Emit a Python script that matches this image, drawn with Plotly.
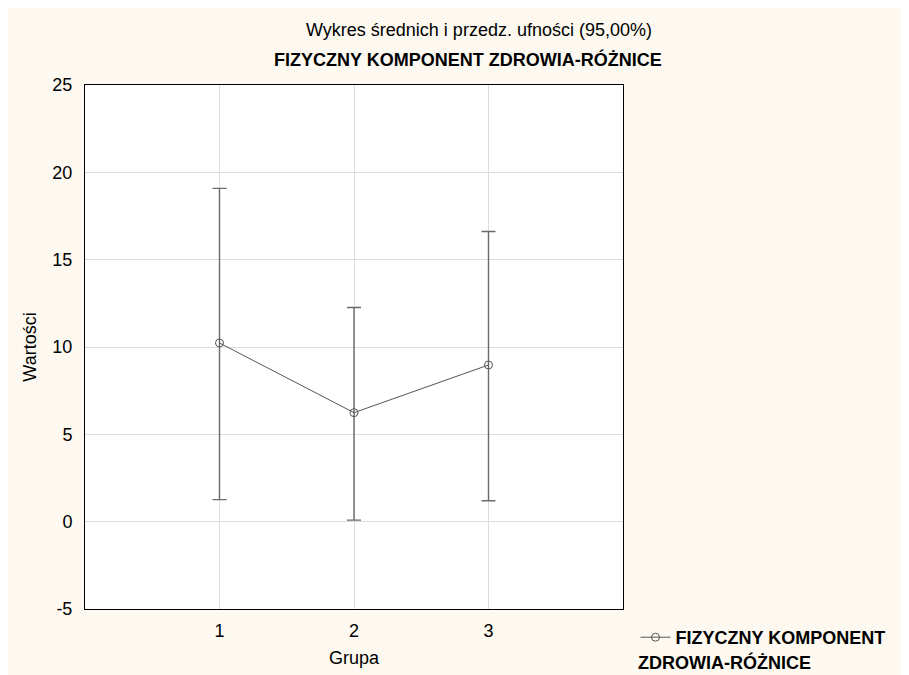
import plotly.graph_objects as go

groups = [1, 2, 3]
means = [10.23, 6.24, 8.97]
upper = [19.08, 12.26, 16.61]
lower = [1.26, 0.09, 1.20]
y_ticks = [-5, 0, 5, 10, 15, 20, 25]
y_tick_labels = ["-5", "0", "5", "10", "15", "20", "25"]
x_ticks = [1, 2, 3]

err_plus = [u - m for u, m in zip(upper, means)]
err_minus = [m - l for m, l in zip(means, lower)]

FONT = "Liberation Sans, Arial, sans-serif"
BG = "#FDF9F0"

# plot area in figure pixels
L, T, W, H = 77, 77, 538, 524

def px(xfig):
    return (xfig - L) / W

def py(yfig):
    return 1 - (yfig - T) / H

fig = go.Figure()
fig.add_trace(go.Scatter(
    x=groups, y=means, mode="lines+markers",
    name="<b>FIZYCZNY KOMPONENT</b>",
    line=dict(color="#555555", width=1),
    marker=dict(symbol="circle-open", size=8, color="#555555", line=dict(width=1)),
    error_y=dict(type="data", symmetric=False, array=err_plus, arrayminus=err_minus,
                 color="#6A6A6A", thickness=1.4, width=7),
))

fig.update_layout(
    width=909, height=675,
    paper_bgcolor=BG, plot_bgcolor="white",
    margin=dict(l=L, r=909 - L - W, t=T, b=675 - T - H),
    font=dict(family=FONT, size=18, color="black"),
    showlegend=True,
    legend=dict(x=px(627.5), y=py(611), xanchor="left", yanchor="top",
                bgcolor="rgba(0,0,0,0)", font=dict(size=18, family=FONT),
                itemwidth=30, tracegroupgap=0),
    xaxis=dict(range=[0, 4], tickvals=x_ticks, ticktext=[str(v) for v in x_ticks],
               showgrid=True, gridcolor="#DDDDDD", gridwidth=1,
               showline=True, linecolor="black", linewidth=1, mirror=True,
               ticks="", zeroline=False, ticklabelstandoff=5,
               title=dict(text="Grupa", font=dict(size=18), standoff=11),
               tickfont=dict(size=18)),
    yaxis=dict(range=[-5, 25], tickvals=y_ticks, ticktext=y_tick_labels,
               showgrid=True, gridcolor="#DDDDDD", gridwidth=1,
               showline=True, linecolor="black", linewidth=1, mirror=True,
               ticks="", zeroline=False, ticklabelstandoff=8,
               title=dict(text="Wartości", font=dict(size=18), standoff=11),
               tickfont=dict(size=18)),
    annotations=[
        dict(text="Wykres średnich i przedz. ufności (95,00%)", xref="paper", yref="paper",
             x=px(471), y=py(22), xanchor="center", yanchor="middle",
             showarrow=False, font=dict(size=18, family=FONT)),
        dict(text="<b>FIZYCZNY KOMPONENT ZDROWIA-RÓŻNICE</b>", xref="paper", yref="paper",
             x=px(460), y=py(51.5), xanchor="center", yanchor="middle",
             showarrow=False, font=dict(size=18, family=FONT)),
        dict(text="<b>ZDROWIA-RÓŻNICE</b>", xref="paper", yref="paper",
             x=px(628), y=py(654), xanchor="left", yanchor="middle",
             showarrow=False, font=dict(size=18, family=FONT)),
    ],
)

fig.write_html("out.html")
